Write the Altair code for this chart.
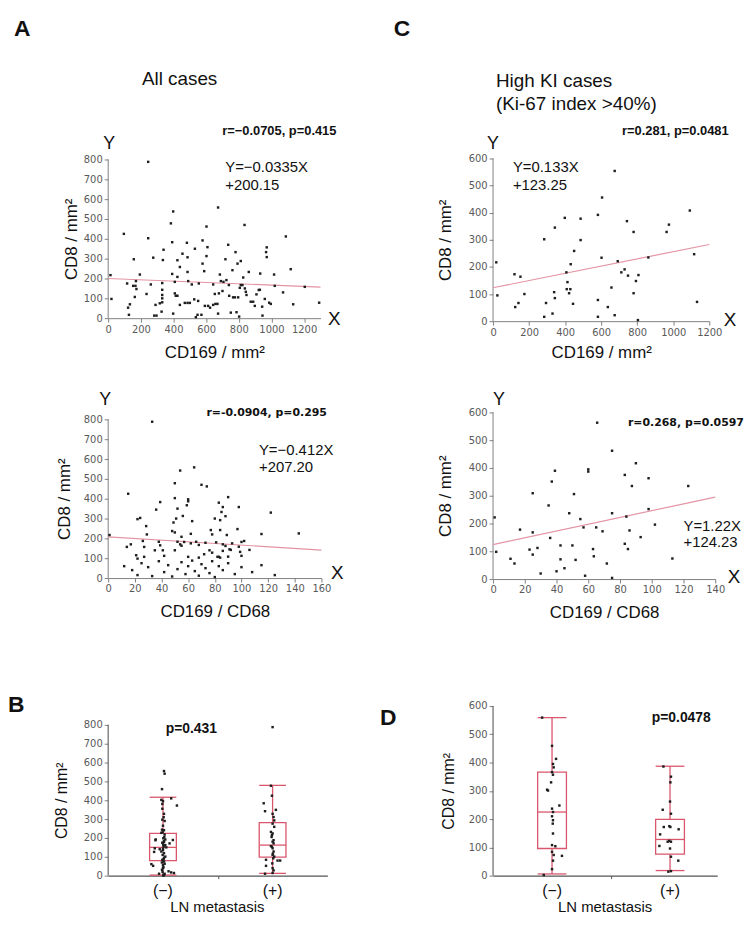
import altair as alt
import pandas as pd

SANS = "Liberation Sans, Arial, sans-serif"
TICKF = "DejaVu Sans, Verdana, sans-serif"
AX = "#7f7f7f"
LAB = "#595959"
PINK = "#e494a2"
RED = "#d9566c"
DOT = "#1e1e1e"
INK = "#111111"

# ---------------- data: panel A (all cases) ----------------
A1_CD169 = [245, 96, 245, 14, 20, 157, 116, 122, 133, 127,
            153, 167, 163, 173, 194, 170, 235, 261, 276, 282,
            296, 290, 316, 331, 331, 335, 339, 331, 331, 331,
            327, 384, 392, 392, 398, 398, 408, 408, 414, 424,
            424, 424, 439, 439, 455, 469, 482, 486, 486, 490,
            486, 500, 512, 527, 531, 537, 547, 551, 555, 571,
            578, 578, 588, 592, 602, 602, 608, 612, 624, 643,
            643, 653, 657, 669, 673, 673, 678, 684, 690, 700,
            706, 718, 724, 735, 739, 741, 751, 761, 765, 776,
            780, 786, 792, 796, 802, 806, 812, 812, 822, 827,
            835, 837, 843, 847, 861, 873, 888, 898, 908, 922,
            929, 931, 943, 945, 959, 967, 971, 971, 986, 996,
            1016, 1020, 1088, 1118, 1133, 1071, 1204, 1292]
A1_CD8 = [788, 425, 403, 217, 97, 297, 175, 53, 70, 17,
          163, 163, 107, 147, 220, 187, 122, 170, 305, 13,
          13, 67, 75, 100, 80, 293, 345, 177, 143, 117,
          33, 478, 383, 223, 538, 23, 183, 125, 113, 292,
          208, 113, 258, 67, 325, 77, 380, 307, 233, 187,
          77, 77, 170, 95, 350, 5, 17, 87, 175, 17,
          392, 275, 237, 62, 313, 462, 358, 62, 53, 170,
          67, 122, 72, 72, 558, 23, 125, 220, 187, 137,
          183, 297, 192, 370, 167, 113, 28, 242, 105, 105,
          333, 30, 275, 105, 8, 153, 288, 167, 167, 205,
          470, 150, 133, 117, 233, 83, 83, 62, 120, 142,
          143, 225, 58, 13, 97, 333, 357, 308, 78, 72,
          220, 163, 412, 247, 70, 130, 158, 78]
A1_FIT = (-0.0335, 200.15)

A2_RATIO = [33, 15, 54, 64.5, 50, 70, 74, 39, 36, 22,
            24, 28.5, 50, 60, 60, 59, 52, 56, 63, 49,
            51, 83, 86, 90, 85, 88, 80, 84, 98, 122,
            29, 50, 48, 55, 62, 77, 84, 97, 78, 89,
            115, 143, 1,
            14, 17, 21, 22, 27, 27, 35, 39, 41, 42,
            50, 54, 55, 57, 60, 62, 68, 72, 76, 78,
            82, 83, 84, 86, 88, 90, 91, 92, 98, 100,
            99, 100, 106,
            26, 38, 52, 66, 73, 81, 86, 93, 102, 68,
            12, 18, 22, 25, 30, 33, 38, 42, 45, 48,
            52, 55, 58, 60, 63, 65, 68, 70, 73, 76,
            78, 80, 83, 86, 90, 95, 100, 108, 115, 125]
A2_CD8 = [788, 425, 542, 558, 478, 470, 462, 383, 345, 297,
          303, 262, 403, 397, 387, 367, 350, 313, 287, 280,
          300, 380, 358, 408, 333, 312, 300, 292, 358, 330,
          220, 230, 237, 208, 223, 242, 242, 247, 220, 217,
          222, 225, 217,
          157, 170, 115, 98, 157, 107, 140, 165, 140, 112,
          140, 170, 163, 182, 107, 175, 103, 120, 140, 128,
          107, 107, 103, 137, 162, 108, 145, 142, 158, 182,
          132, 112, 142,
          187, 183, 183, 183, 178, 180, 170, 175, 187, 167,
          60, 40, 15, 75, 55, 10, 85, 30, 65, 8,
          45, 80, 20, 60, 88, 35, 12, 70, 50, 25,
          85, 5, 60, 40, 75, 20, 55, 30, 65, 15]
A2_FIT = (-0.412, 207.20)

# ---------------- data: panel C (high Ki-67 cases) ----------------
C1_CD169 = [18, 24, 119, 123, 141, 152, 174, 284, 294, 284,
            330, 343, 339, 343, 398, 407, 413, 409, 422, 429,
            431, 450, 444, 486, 486, 582, 582, 582, 605, 602,
            637, 657, 675, 675, 692, 712, 730, 743, 749, 780,
            780, 793, 807, 804, 862, 963, 976, 1092, 1116, 1132]
C1_CD8 = [217, 95, 173, 52, 67, 164, 100, 302, 67, 16,
          28, 345, 107, 85, 381, 180, 144, 118, 103, 118,
          210, 259, 64, 378, 299, 392, 78, 16, 456, 234,
          52, 124, 554, 22, 221, 180, 191, 369, 168, 329,
          103, 148, 170, 4, 235, 329, 356, 408, 247, 71]
C1_FIT = (0.133, 123.25)

C2_RATIO = [65.6, 75, 90, 60, 60, 39, 37, 83, 87.5, 98,
            123, 25, 51, 35, 48, 55, 75, 84, 98, 102,
            57, 65, 69, 86, 93, 17, 25, 36, 1, 42.5,
            50, 83, 85, 23, 25, 28, 63, 63.5, 2, 11,
            13.5, 42.5, 52, 71.7, 113, 45,
            30, 58, 75, 40]
C2_CD8 = [563, 462, 417, 395, 387, 390, 351, 375, 335, 363,
          335, 309, 306, 265, 237, 216, 237, 225, 252, 196,
          186, 186, 172, 175, 151, 178, 168, 148, 222, 121,
          121, 127, 108, 106, 88, 112, 108, 82, 98, 73,
          56, 71, 69, 56, 74, 39,
          20, 12, 4, 28]
C2_FIT = (1.22, 124.23)

# ---------------- data: panels B and D (LN metastasis) ----------------
CAT_LABELS = ["(\u2212)", "(+)"]

B_NEG_JIT = [0.009, 0.015, -0.009, 0.127, -0.015, 0, -0.006, 0.009, -0.006, 0.015,
             0.009, -0.015, 0.015, -0.066, 0.021, 0.009, 0, 0.021, 0.06, 0.09,
             -0.075, -0.03, -0.015, 0.009, 0.021, -0.006, 0.009, 0.015, -0.106, -0.09,
             0, -0.009, 0.051, 0.075, 0.1, -0.036, 0.015,
             -0.009, 0.009, 0.003, 0, 0.03, -0.069, -0.081, 0, 0.006, -0.003,
             0.012, 0, 0.006, -0.006, 0.003, 0.009, 0, 0.006, -0.006, 0.003,
             -0.003, 0.01, -0.01, 0.004, -0.004, 0.008, 0.075]
B_NEG_CD8 = [555, 541, 459, 372, 402, 395, 355, 328, 297, 290,
             241, 227, 218, 192, 192, 183, 171, 162, 171, 189,
             145, 140, 128, 119, 101, 84, 75, 63, 61, 52,
             40, 31, 23, 17, 14, 10, 10,
             244, 179, 161, 144, 150, 188, 126, 56, 88, 110,
             205, 265, 310, 380, 0, 3, 135, 155, 175, 198,
             230, 95, 70, 45, 20, 5, 410]
B_POS_JIT = [0, -0.015, -0.006, -0.081, -0.069, 0.03, 0, 0.009, 0.015, 0,
             0.015, -0.015, 0, -0.006, 0, 0.009, -0.015, 0, 0.009, 0,
             0.015, -0.06, 0.045, 0.069, -0.06, 0, 0.009, -0.069, 0,
             -0.009, 0.009, -0.006, 0.003, 0.006, -0.003]
B_POS_CD8 = [788, 477, 424, 384, 342, 349, 328, 311, 293, 276,
             259, 232, 224, 215, 180, 171, 157, 145, 128, 110,
             101, 84, 80, 80, 52, 40, 28, 10, 14,
             205, 188, 153, 117, 92, 65]
B_LOW, B_Q1, B_MED, B_Q3, B_HIGH = [3, 12], [80, 98], [150, 162], [224, 281], [416, 479]

D_NEG_JIT = [-0.084, 0, 0.034, 0.008, 0.014, 0, 0.008, -0.008, -0.042, -0.034,
             0.062, 0, 0.008, 0, 0.008, 0.006, 0.008, 0, 0.028, 0,
             0.014, 0.008, 0.084, 0, -0.07]
D_NEG_CD8 = [559, 459, 413, 395, 383, 366, 357, 330, 304, 301,
             248, 237, 225, 210, 196, 184, 149, 108, 104, 84,
             73, 53, 70, 23, 2]
D_POS_JIT = [-0.056, 0.008, 0.003, 0, -0.062, 0.008, -0.006, 0.003, -0.053, 0.073,
             -0.084, -0.006, 0.008, -0.02, -0.09, 0, 0.008, 0.07, -0.014, 0.008]
D_POS_CD8 = [386, 350, 330, 262, 233, 219, 175, 172, 172, 164,
             146, 123, 120, 120, 105, 96, 67, 53, 14, 16]
D_LOW, D_Q1, D_MED, D_Q3, D_HIGH = [6, 18], [96, 76], [225, 128], [366, 199], [559, 387]

YT800 = [0, 100, 200, 300, 400, 500, 600, 700, 800]
YT600 = [0, 100, 200, 300, 400, 500, 600]
XT1200 = [0, 200, 400, 600, 800, 1000, 1200]
XT160 = [0, 20, 40, 60, 80, 100, 120, 140, 160]
XT140 = [0, 20, 40, 60, 80, 100, 120, 140]


# ---------------- helpers ----------------
def txt(s, x, y, size, font=SANS, weight="normal", align="left", baseline="middle"):
    return alt.Chart(pd.DataFrame({"t": [s]})).mark_text(
        font=font, fontSize=size, fontWeight=weight, align=align,
        baseline=baseline, color=INK
    ).encode(text="t:N", x=alt.value(x), y=alt.value(y))


def yax(values, title, tx, ty, size):
    return alt.Axis(values=values, title=title, titleX=tx, titleY=ty, titleAngle=270,
                    titleAlign="center", titleBaseline="middle", titleFont=SANS,
                    titleFontSize=size, titleFontWeight="normal", titleColor=INK,
                    labelFont=TICKF, labelFontSize=10, labelColor=LAB, labelPadding=2,
                    format="d", tickColor=AX, tickSize=4, domain=False, grid=False)


def xax(values, title, ty, w, size):
    return alt.Axis(values=values, title=title, titleX=w / 2, titleY=ty,
                    titleAlign="center", titleBaseline="middle", titleFont=SANS,
                    titleFontSize=size, titleFontWeight="normal", titleColor=INK,
                    labelFont=TICKF, labelFontSize=10, labelColor=LAB, labelPadding=2,
                    labelFlush=False, labelOverlap=False, labelAngle=0, format="d",
                    tickColor=AX, tickSize=4, domainColor=AX, grid=False)


def yline(X, Y, top, color, width):
    # y-axis line drawn from 0 up to the highest tick only
    return alt.Chart(pd.DataFrame({"x": [0], "y0": [0], "y1": [top]})).mark_rule(
        color=color, strokeWidth=width).encode(x=X("x:Q"), y=Y("y0:Q"), y2="y1")


def scatter(xs, ys, fit, xmax, xticks, ydom, yticks, w, h, xtitle, ytx, xty, texts):
    ytop = yticks[-1]
    xsc = alt.Scale(domain=[0, xmax], nice=False)
    ysc = alt.Scale(domain=[0, ydom], nice=False)
    xa = xax(xticks, xtitle, xty, w, 17)
    ya = yax(yticks, "CD8 / mm\u00b2", ytx, h - h * ytop / ydom / 2, 17)

    def X(f):
        return alt.X(f, scale=xsc, axis=xa)

    def Y(f):
        return alt.Y(f, scale=ysc, axis=ya)

    slope, icpt = fit
    line_df = pd.DataFrame({"x": [0, xmax], "y": [icpt, icpt + slope * xmax]})
    line = alt.Chart(line_df).mark_line(color=PINK, strokeWidth=1.2).encode(
        x=X("x:Q"), y=Y("y:Q"))
    pts = alt.Chart(pd.DataFrame({"x": xs, "y": ys})).mark_square(
        size=6, color=DOT, opacity=1).encode(x=X("x:Q"), y=Y("y:Q"))
    return alt.layer(yline(X, Y, ytop, AX, 1), line, pts, *texts).properties(width=w, height=h)


def boxpanel(neg_jit, neg_val, pos_jit, pos_val, low, q1, med, q3, high,
             xmax, ydom, yticks, w, h, ytx, half, texts):
    ytop = yticks[-1]
    centers = [0.5, 1.5]
    px = [centers[0] + j for j in neg_jit] + [centers[1] + j for j in pos_jit]
    py = list(neg_val) + list(pos_val)
    st = pd.DataFrame({"c": centers, "l": [c - half for c in centers],
                       "r": [c + half for c in centers], "low": low, "q1": q1,
                       "med": med, "q3": q3, "high": high})
    xsc = alt.Scale(domain=[0, xmax], nice=False, zero=False)
    ysc = alt.Scale(domain=[0, ydom], nice=False)
    xa = alt.Axis(values=[1], labels=False, title=None, tickSize=3, tickColor="#555555",
                  domainColor="#555555", domainWidth=1.4, grid=False)
    ya = yax(yticks, "CD8 / mm\u00b2", ytx, h - h * ytop / ydom / 2, 16)

    def X(f):
        return alt.X(f, scale=xsc, axis=xa)

    def Y(f):
        return alt.Y(f, scale=ysc, axis=ya)

    base = alt.Chart(st)
    box = base.mark_rect(fillOpacity=0, stroke=RED, strokeWidth=1.3).encode(
        x=X("l:Q"), x2="r", y=Y("q1:Q"), y2="q3")
    medl = base.mark_rule(color=RED, strokeWidth=1.3).encode(x=X("l:Q"), x2="r", y=Y("med:Q"))
    caph = base.mark_rule(color=RED, strokeWidth=1.3).encode(x=X("l:Q"), x2="r", y=Y("high:Q"))
    capl = base.mark_rule(color=RED, strokeWidth=1.3).encode(x=X("l:Q"), x2="r", y=Y("low:Q"))
    wlo = base.mark_rule(color=RED, strokeWidth=1.3).encode(x=X("c:Q"), y=Y("low:Q"), y2="q1")
    whi = base.mark_rule(color=RED, strokeWidth=1.3).encode(x=X("c:Q"), y=Y("q3:Q"), y2="high")
    dots = alt.Chart(pd.DataFrame({"x": px, "y": py})).mark_square(
        size=6, color=DOT, opacity=1).encode(x=X("x:Q"), y=Y("y:Q"))
    cats = alt.Chart(pd.DataFrame({"x": centers, "t": CAT_LABELS})).mark_text(
        font=SANS, fontSize=16, color=INK, baseline="middle").encode(
        x=X("x:Q"), y=alt.value(h + 16), text="t:N")
    return alt.layer(yline(X, Y, ytop, "#666666", 1.2), box, medl, caph, capl, wlo, whi,
                     dots, cats, *texts).properties(width=w, height=h)


# ---------------- panels ----------------
a1 = scatter(A1_CD169, A1_CD8, A1_FIT, 1300, XT1200, 805, YT800, 214, 161,
             "CD169 / mm\u00b2", -37, 35, [
                 txt("A", -95, -123, 23, SANS, "bold", baseline="alphabetic"),
                 txt("All cases", 72, -80, 19, align="center"),
                 txt("Y", 1, -15, 18, align="center"),
                 txt("r=\u22120.0705, p=0.415", 115, -28, 13, SANS, "bold"),
                 txt("Y=\u22120.0335X", 118, 9, 15),
                 txt("+200.15", 118, 27, 15),
                 txt("X", 228, 162, 19, align="center"),
             ])
a2 = scatter(A2_RATIO, A2_CD8, A2_FIT, 160, XT160, 835, YT800, 215, 167,
             "CD169 / CD68", -44, 34, [
                 txt("Y", -3, -12, 18, align="center"),
                 txt("r=-0.0904, p=0.295", 99, 1, 11, TICKF, "bold"),
                 txt("Y=\u22120.412X", 152, 38, 15),
                 txt("+207.20", 152, 55, 15),
                 txt("X", 231, 162, 19, align="center"),
             ])
c1 = scatter(C1_CD169, C1_CD8, C1_FIT, 1200, XT1200, 600, YT600, 218, 164,
             "CD169 / mm\u00b2", -48, 32, [
                 txt("C", -100, -123, 23, SANS, "bold", baseline="alphabetic"),
                 txt("High KI cases", 3, -78, 19),
                 txt("(Ki-67 index >40%)", 3, -55, 19),
                 txt("Y", 0, -15, 18, align="center"),
                 txt("r=0.281, p=0.0481", 130, -28, 13, SANS, "bold"),
                 txt("Y=0.133X", 20, 9, 15),
                 txt("+123.25", 20, 27, 15),
                 txt("X", 239, 163, 19, align="center"),
             ])
c2 = scatter(C2_RATIO, C2_CD8, C2_FIT, 140, XT140, 600, YT600, 224, 168,
             "CD169 / CD68", -48, 34, [
                 txt("Y", 6, -12, 18, align="center"),
                 txt("r=0.268, p=0.0597", 136, 11, 11, TICKF, "bold"),
                 txt("Y=1.22X", 192, 115, 15),
                 txt("+124.23", 192, 131, 15),
                 txt("X", 243, 166, 19, align="center"),
             ])
bp = boxpanel(B_NEG_JIT, B_NEG_CD8, B_POS_JIT, B_POS_CD8, B_LOW, B_Q1, B_MED, B_Q3, B_HIGH,
              2.0, 900, YT800, 221, 171, -47, 0.122, [
                  txt("B", -101, 6, 23, SANS, "bold", baseline="alphabetic"),
                  txt("p=0.431", 58, 23, 14, SANS, "bold"),
                  txt("LN metastasis", 110, 202.5, 15, align="center"),
              ])
dp = boxpanel(D_NEG_JIT, D_NEG_CD8, D_POS_JIT, D_POS_CD8, D_LOW, D_Q1, D_MED, D_Q3, D_HIGH,
              1.9, 600, YT600, 226, 171, -45, 0.122, [
                  txt("D", -114, 19, 23, SANS, "bold", baseline="alphabetic"),
                  txt("p=0.0478", 160, 12, 14, SANS, "bold"),
                  txt("LN metastasis", 113, 202.5, 15, align="center"),
              ])


# ---------------- layout: flat flow grid of plot rectangles ----------------
def spacer(w, h):
    return alt.Chart(pd.DataFrame({"s": [0]})).mark_point(
        size=0, strokeWidth=0, opacity=0).encode(
        x=alt.value(0), y=alt.value(0)).properties(width=max(w, 1), height=max(h, 1))


# (chart, page-left, width) per column; each row shares one page-top and height
ROWS = [
    (156, 164, [(a1, 103, 214), (c1, 482, 218)]),
    (412, 168, [(a2, 108, 215), (c2, 476, 224)]),
    (708, 171, [(bp, 109, 221), (dp, 497, 226)]),
]

cells = []
bottom = 8
for top, height, ((lc, ll, lw), (rc, rl, rw)) in ROWS:
    cells += [spacer(1, top - bottom), spacer(1, 1), spacer(1, 1), spacer(1, 1)]
    cells += [spacer(ll - 8, 1), lc, spacer(rl - (ll + lw), 1), rc]
    bottom = top + height

chart = alt.concat(*cells, columns=4, spacing=0, bounds="flush", align="none").properties(
    padding=0, background="white").configure_view(strokeWidth=0)

chart.save("out.html", embed_options={"renderer": "svg", "actions": False})
